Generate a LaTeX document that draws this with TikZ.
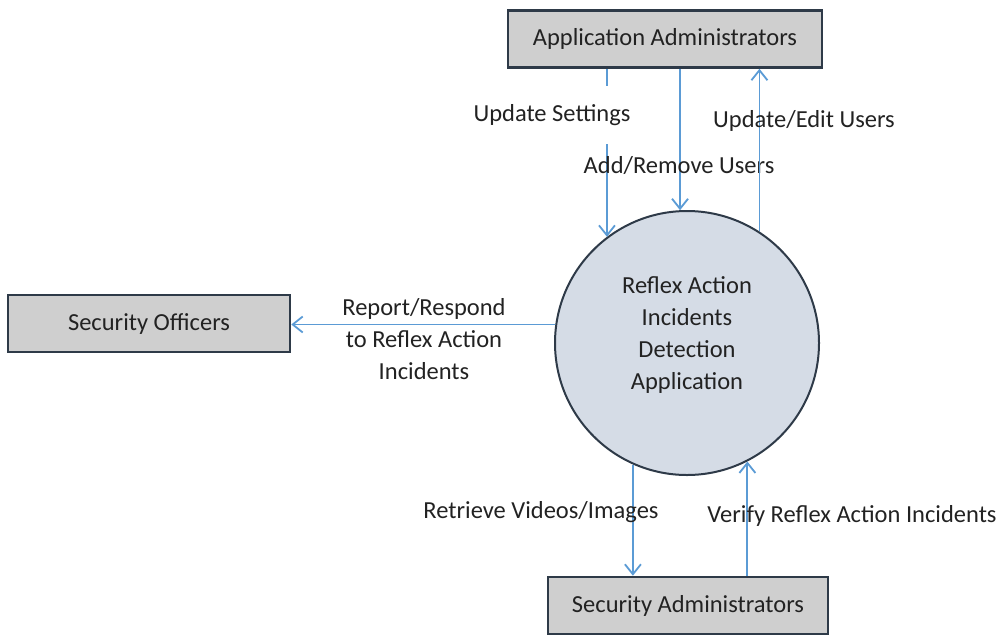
\documentclass[tikz,border=0pt]{standalone}
\usepackage{fontspec}
\setmainfont{Carlito}
\usetikzlibrary{arrows.meta}
\definecolor{flowblue}{HTML}{5B9BD5}
\definecolor{boxfill}{HTML}{CFCFCF}
\definecolor{edge}{HTML}{2E3A48}
\definecolor{procfill}{HTML}{D5DCE6}
\definecolor{ink}{HTML}{222222}
\tikzset{
  txt/.style={font=\fontsize{24.5}{32}\selectfont},
  entity/.style={txt, draw=edge, line width=2.6pt, fill=boxfill, text=ink,
    minimum height=57pt, inner sep=0pt},
  process/.style={circle, draw=edge, line width=2pt, fill=procfill,
    minimum size=264pt, inner sep=0pt},
  flow/.style={draw=flowblue, line width=1.8pt,
    -{Straight Barb[length=10pt,width=16pt,line width=1.8pt]}},
  flowlabel/.style={txt, text=ink, align=center, inner sep=0pt},
}
\begin{document}
\begin{tikzpicture}[x=1pt, y={(0pt,-1pt)}]
\useasboundingbox (0,0) rectangle (1001,635);

% external entities
\node[entity, minimum width=314pt] (aa) at (665,39) {Application Administrators};
\node[entity, minimum width=282pt] (so) at (149,323.5) {Security Officers};
\node[entity, minimum width=280pt] (sa) at (688,605.5) {Security Administrators};

% central process
\node[process] (c) at (687,343) {};
\node[flowlabel] (ct) at (687,335) {Reflex Action\\Incidents\\Detection\\Application};

% data flows
\draw[flow] (aa.south -| c.127) -- (c.127);
\node[flowlabel, fill=white, minimum height=58pt, inner xsep=2pt] (l1) at (552,115) {Update Settings};

\draw[flow] (aa.south -| c.93) -- (c.93);
\node[flowlabel] (l2) at (679,166) {Add/Remove Users};

\draw[flow] (c.57.2) -- (aa.south -| c.57.2);
\node[flowlabel] (l3) at (804,121) {Update/Edit Users};

\draw[flow] (c.172.2) -- (so.east |- c.172.2);
\node[flowlabel] (l4) at (424,339) {Report/Respond\\to Reflex Action\\Incidents};

\draw[flow] (c.246.3) -- (sa.north -| c.246.3);
\node[flowlabel] (l5) at (541,512) {Retrieve Videos/Images};

\draw[flow] (sa.north -| c.297) -- (c.297);
\node[flowlabel] (l6) at (852,516) {Verify Reflex Action Incidents};
\end{tikzpicture}
\end{document}
